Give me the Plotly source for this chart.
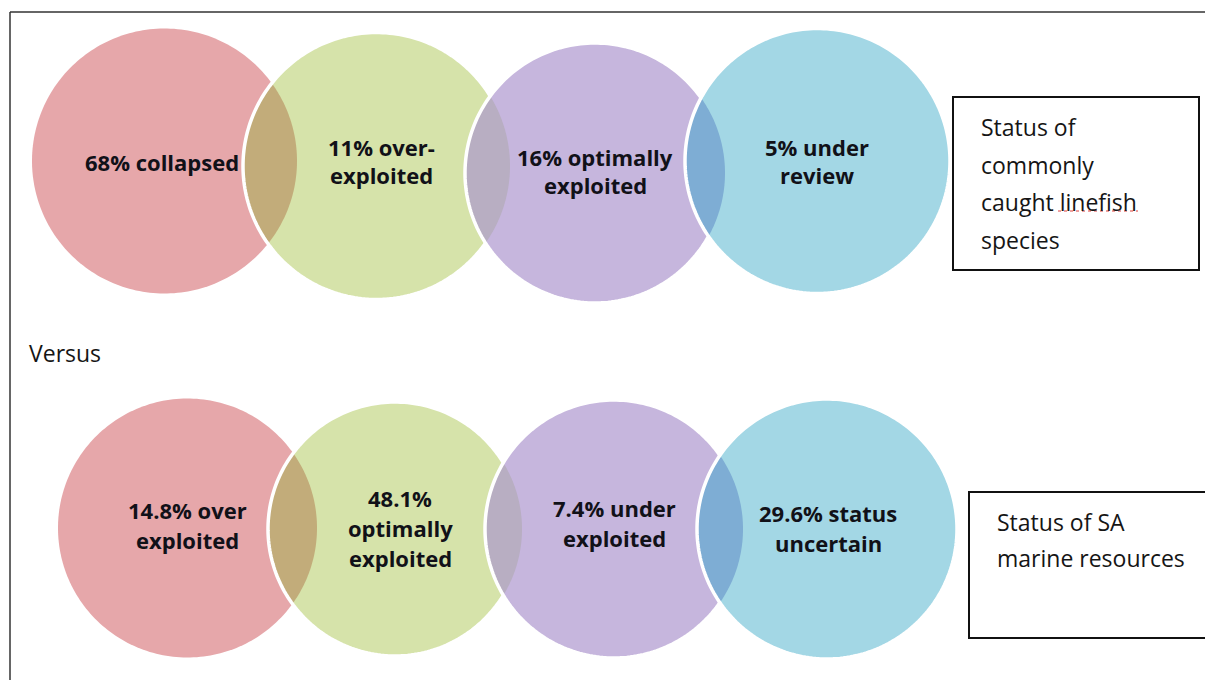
import numpy as np
import plotly.graph_objects as go

# ---------------- data ----------------
top_labels = [["68% collapsed"], ["11% over-", "exploited"], ["16% optimally", "exploited"], ["5% under", "review"]]
bottom_labels = [["14.8% over", "exploited"], ["48.1%", "optimally", "exploited"], ["7.4% under", "exploited"], ["29.6% status", "uncertain"]]
top_caption = ["Status of", "commonly", "caught linefish", "species"]
bottom_caption = ["Status of SA", "marine resources"]
middle_text = "Versus"

# ---------------- layout geometry ----------------
W, H = 1213, 688
PAD = 8  # default page body margin, compensated so the drawing lands on page pixels
fills = ["#E6A7AA", "#D6E3AA", "#C6B6DD", "#A3D7E5"]
lens_fills = ["#C2AC7A", "#B8AEC2", "#7EADD4"]

top_circles = [(164.5, 161, 132.5), (376.5, 166, 133.5), (595, 173, 130), (817.5, 161, 132.5)]
bottom_circles = [(187.5, 528, 129.5), (395, 529, 127), (614, 529, 129), (827, 529, 130)]
top_label_y = [162, 161, 171, 161]
bottom_label_y = [525, 528, 523, 528]
top_label_x = [162, 381, 595, 817]
bottom_label_x = [187, 400, 614, 828]
top_spacing = 28
bottom_spacing = 30

TXT = "#111118"
BOLD_FONT = dict(family="'Open Sans', Lato, sans-serif", size=22, color=TXT, weight="bold")
REG_FONT = dict(family="'Open Sans', Lato, sans-serif", size=23, color="#151515")


def circle_pts(cx, cy, r, a0=0, a1=2 * np.pi, n=240):
    t = np.linspace(a0, a1, n)
    return cx + r * np.cos(t), cy + r * np.sin(t)


def path_from(xs, ys):
    s = "M {:.2f},{:.2f} ".format(xs[0], ys[0])
    s += " ".join("L {:.2f},{:.2f}".format(x, y) for x, y in zip(xs[1:], ys[1:]))
    return s + " Z"


def lens_path(c1, c2):
    (x1, y1, r1), (x2, y2, r2) = c1, c2
    d = np.hypot(x2 - x1, y2 - y1)
    a = (r1 ** 2 - r2 ** 2 + d ** 2) / (2 * d)
    h = np.sqrt(max(r1 ** 2 - a ** 2, 0))
    ux, uy = (x2 - x1) / d, (y2 - y1) / d
    mx, my = x1 + a * ux, y1 + a * uy
    p1 = (mx - h * uy, my + h * ux)
    p2 = (mx + h * uy, my - h * ux)
    a1s = np.arctan2(p2[1] - y1, p2[0] - x1)
    a1e = np.arctan2(p1[1] - y1, p1[0] - x1)
    if a1e < a1s:
        a1e += 2 * np.pi
    xa, ya = circle_pts(x1, y1, r1, a1s, a1e, 80)
    a2s = np.arctan2(p1[1] - y2, p1[0] - x2)
    a2e = np.arctan2(p2[1] - y2, p2[0] - x2)
    if a2e < a2s:
        a2e += 2 * np.pi
    xb, yb = circle_pts(x2, y2, r2, a2s, a2e, 80)
    return path_from(np.concatenate([xa, xb]), np.concatenate([ya, yb]))


shapes = []


def add_row(circles):
    for i, (cx, cy, r) in enumerate(circles):
        xs, ys = circle_pts(cx, cy, r)
        shapes.append(dict(type="path", xref="x", yref="y", path=path_from(xs, ys),
                           fillcolor=fills[i], line=dict(width=0)))
        if i > 0:
            shapes.append(dict(type="path", xref="x", yref="y", path=lens_path(circles[i - 1], circles[i]),
                               fillcolor=lens_fills[i - 1], line=dict(width=0)))
            shapes.append(dict(type="path", xref="x", yref="y", path=path_from(xs, ys)[:-2],
                               fillcolor="rgba(0,0,0,0)", line=dict(color="white", width=3.5)))


add_row(top_circles)
add_row(bottom_circles)

shapes.append(dict(type="rect", xref="x", yref="y", x0=953, x1=1199, y0=97, y1=270,
                   line=dict(color="#111", width=2), fillcolor="white"))
shapes.append(dict(type="rect", xref="x", yref="y", x0=969, x1=1211, y0=492, y1=638,
                   line=dict(color="#111", width=2), fillcolor="white"))
shapes.append(dict(type="line", xref="x", yref="y", x0=1058, x1=1138, y0=211, y1=211,
                   line=dict(color="#E04040", width=1, dash="dot")))
shapes.append(dict(type="line", xref="x", yref="y", x0=10, x1=W, y0=12, y1=12,
                   line=dict(color="#333", width=1.5)))
shapes.append(dict(type="line", xref="x", yref="y", x0=10, x1=10, y0=12, y1=H,
                   line=dict(color="#333", width=1.5)))

annotations = []


def add_labels(labels, xs, ys, spacing):
    for lines, x, y in zip(labels, xs, ys):
        n = len(lines)
        for k, line in enumerate(lines):
            annotations.append(dict(x=x, y=y + (k - (n - 1) / 2) * spacing, xref="x", yref="y",
                                    text=line, showarrow=False, font=BOLD_FONT,
                                    xanchor="center", yanchor="middle"))


add_labels(top_labels, top_label_x, top_label_y, top_spacing)
add_labels(bottom_labels, bottom_label_x, bottom_label_y, bottom_spacing)

for k, line in enumerate(top_caption):
    annotations.append(dict(x=979, y=127 + k * 37.5, xref="x", yref="y", text=line, showarrow=False,
                            font=REG_FONT, xanchor="left", yanchor="middle"))
for k, line in enumerate(bottom_caption):
    annotations.append(dict(x=995, y=522 + k * 36, xref="x", yref="y", text=line, showarrow=False,
                            font=REG_FONT, xanchor="left", yanchor="middle"))
annotations.append(dict(x=27, y=353, xref="x", yref="y", text=middle_text, showarrow=False,
                        font=REG_FONT, xanchor="left", yanchor="middle"))

fig = go.Figure()
fig.add_trace(go.Scatter(x=[PAD, W - PAD], y=[PAD, H - PAD], mode="markers", marker=dict(opacity=0),
                         hoverinfo="skip", showlegend=False))
fig.update_layout(
    width=W - 2 * PAD, height=H - 2 * PAD, margin=dict(l=0, r=0, t=0, b=0),
    paper_bgcolor="white", plot_bgcolor="white",
    xaxis=dict(range=[PAD, W - PAD], visible=False, fixedrange=True),
    yaxis=dict(range=[H - PAD, PAD], visible=False, fixedrange=True),
    shapes=shapes, annotations=annotations, showlegend=False,
)
fig.write_html("out.html")
